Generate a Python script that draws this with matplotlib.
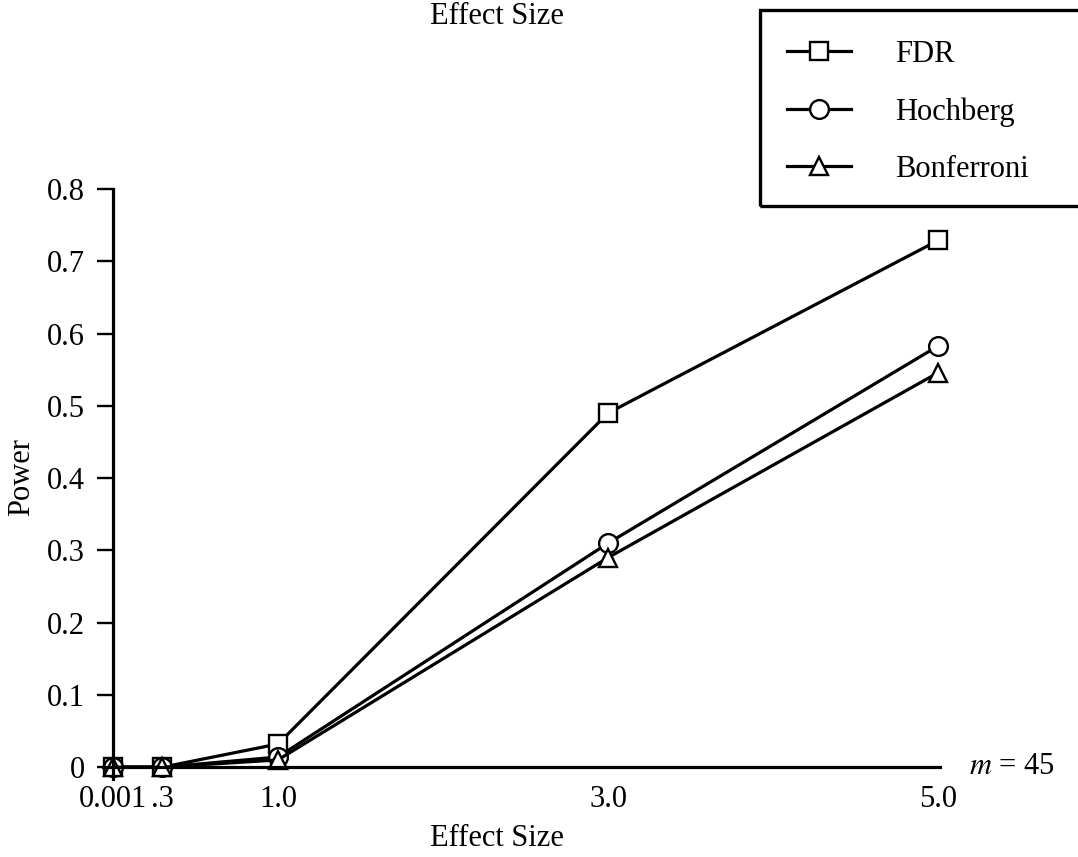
import matplotlib
matplotlib.use("Agg")
import matplotlib.pyplot as plt
from matplotlib.lines import Line2D
from matplotlib.patches import Rectangle
from matplotlib import rcParams

rcParams["font.family"] = "Liberation Serif"
rcParams["mathtext.fontset"] = "stix"

# power of each procedure at each effect size (m = 45)
effect_size = [0.001, 0.3, 1.0, 3.0, 5.0]
tick_labels = ["0.001", ".3", "1.0", "3.0", "5.0"]
power_fdr = [0.0, 0.0, 0.032, 0.49, 0.729]
power_hochberg = [0.0, 0.0, 0.014, 0.31, 0.583]
power_bonferroni = [0.0, 0.0, 0.01, 0.29, 0.546]

FS = 22
LW = 2.3
MS = 13.5
W, H = 1078, 857

fig = plt.figure(figsize=(10.78, 8.57), dpi=100)
ax = fig.add_axes([0.0955, 0.0905, 0.7765, 0.689])

style = dict(color="black", linewidth=LW, markerfacecolor="white",
             markeredgecolor="black", markeredgewidth=1.7)
ax.plot(effect_size, power_fdr, marker="s", markersize=MS, clip_on=False, label="FDR", **style)
ax.plot(effect_size, power_hochberg, marker="o", markersize=MS, clip_on=False, label="Hochberg", **style)
ax.plot(effect_size, power_bonferroni, marker="^", markersize=MS, clip_on=False, label="Bonferroni", **style)

ax.set_xlim(-0.06, 5.01)
ax.set_ylim(-0.017, 0.8)
ax.spines["top"].set_visible(False)
ax.spines["right"].set_visible(False)
ax.spines["bottom"].set_position(("data", 0))
ax.spines["left"].set_position(("data", 0.001))
ax.spines["left"].set_bounds(-0.017, 0.8)
ax.spines["left"].set_linewidth(2.3)
ax.spines["bottom"].set_linewidth(2.3)

ax.set_yticks([0, 0.1, 0.2, 0.3, 0.4, 0.5, 0.6, 0.7, 0.8])
ax.set_yticklabels(["0", "0.1", "0.2", "0.3", "0.4", "0.5", "0.6", "0.7", "0.8"])
ax.set_xticks(effect_size)
ax.set_xticklabels(tick_labels)
ax.tick_params(axis="y", direction="out", length=11.5, width=1.7, pad=9, labelsize=FS)
ax.tick_params(axis="x", length=0, pad=13, labelsize=FS)

fig.text(497 / W, 1 - 838 / H, "Effect Size", ha="center", va="center", fontsize=FS)
fig.text(22 / W, 1 - 477 / H, "Power", ha="center", va="center", rotation=90, fontsize=FS)
fig.text(497 / W, 1 - 17 / H, "Effect Size", ha="center", va="center", fontsize=FS)
fig.text(1012 / W, 1 - 767 / H, "$m$ = 45", ha="center", va="center", fontsize=FS)

# boxed legend running off the right edge
fig.patches.append(Rectangle((760 / W, 1 - 206 / H), 340 / W, 196 / H,
                             transform=fig.transFigure, fill=False,
                             edgecolor="black", linewidth=2.4))
handles = [Line2D([], [], marker=m, markersize=MS, **style) for m in ("s", "o", "^")]
fig.legend(handles, ["FDR", "Hochberg", "Bonferroni"], loc="upper left",
           bbox_to_anchor=(787 / W, 1 - 40 / H), frameon=False,
           borderaxespad=0, borderpad=0,
           fontsize=FS, handlelength=2.1, handletextpad=1.45, labelspacing=0.92)

plt.savefig("out.png", dpi=100)
plt.close()
